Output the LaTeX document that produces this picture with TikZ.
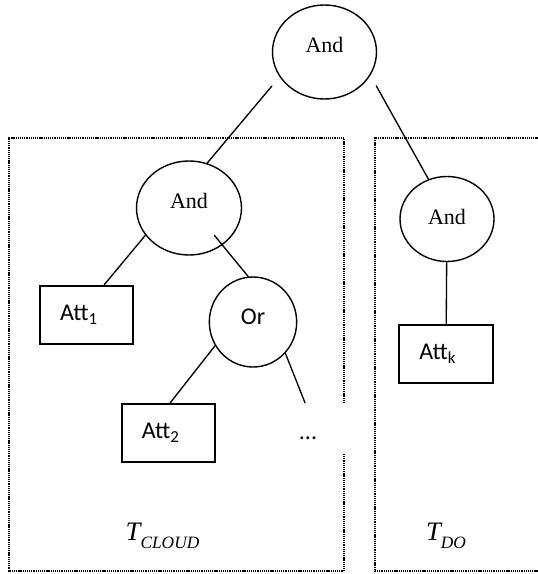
\documentclass[tikz,border=0pt]{standalone}
\usepackage{fontspec}
\setmainfont{Liberation Serif}
\newfontfamily\calibri{Carlito}
\usepackage{tikz}
\usetikzlibrary{shapes.geometric}
\usetikzlibrary{calc}

\begin{document}
\begin{tikzpicture}
	[x=0.75pt,y=-0.75pt,line cap=round,
	%Styles
	gate/.style={ellipse,draw,line width=1.05pt,inner sep=0pt,text depth=11pt,font=\fontsize{16.5}{19}\selectfont},
	or gate/.style={gate,text depth=8pt,font=\calibri\fontsize{18}{21}\selectfont},
	leaf/.style={rectangle,draw,line width=1.5pt,text width=40pt,align=left,inner xsep=15pt,inner ysep=0pt,minimum height=43.5pt,font=\calibri\fontsize{18}{21}\selectfont},
	edge/.style={line width=1pt},
	region/.style={line width=1.2pt,line cap=butt,dash pattern=on 0.8pt off 0.6pt},
	tree label/.style={anchor=base,inner sep=0pt,font=\fontsize{20}{24}\selectfont\itshape}
	]

	%The frame
	\useasboundingbox (0,0) rectangle (537,574);

	%The two subtrees
	\draw[region] (344,403) -- (344,138) -- (9,138) -- (9,571) -- (344,571) -- (344,454);
	\draw[region] (545,138) -- (375,138) -- (375,571) -- (545,571);

	%The gates
	\node[gate,minimum width=78pt,minimum height=70.5pt] (top) at (324.5,52) {And};
	\node[gate,minimum width=78.75pt,minimum height=70.5pt] (cloudAnd) at (189,208) {And};
	\node[gate,text depth=3.5pt,minimum width=70.5pt,minimum height=63.75pt] (doAnd) at (447,219) {And};
	\node[or gate,minimum width=65.5pt,minimum height=67.5pt] (orGate) at (253,322) {Or};

	%The attributes
	\node[leaf] (att1) at (86.7,315) {Att\textsubscript{1}};
	\node[leaf] (att2) at (168.5,433) {Att\textsubscript{2}};
	\node[leaf] (attk) at (446,353.5) {Att\textsubscript{k}};
	\node[inner sep=0pt,minimum height=52.5pt,font=\calibri\fontsize{18}{21}\selectfont] (dots) at (308,438) {...};

	%The edges
	\draw[edge,shorten <=9pt] (top.209) -- (cloudAnd.68);
	\draw[edge,shorten <=9pt] (top.333) -- (doAnd.115);
	\draw[edge] (cloudAnd.212) -- (att1.60);
	\draw[edge,shorten <=-9.4pt] (cloudAnd.-48) -- (orGate.96);
	\draw[edge] (orGate.212) -- (att2.87);
	\draw[edge] (orGate.316) -- ($(dots.north)+(-3,0)$);
	\draw[edge] (doAnd) -- (attk);

	%The labels
	\node[tree label] (tcloud) at (162.5,540) {T\raisebox{-6pt}{\fontsize{13}{15}\selectfont CLOUD}};
	\node[tree label] (tdo) at (446,540) {T\raisebox{-6pt}{\fontsize{13}{15}\selectfont DO}};
\end{tikzpicture}
\end{document}
